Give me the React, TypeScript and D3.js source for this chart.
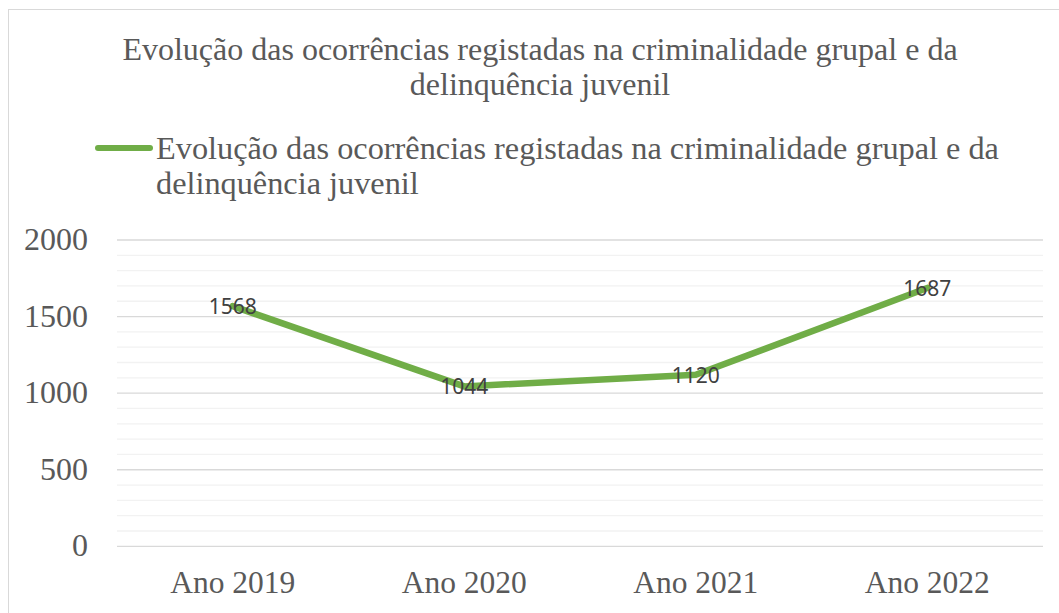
import React from "react";
import * as d3 from "d3";

const categories = ["Ano 2019", "Ano 2020", "Ano 2021", "Ano 2022"];
const values = [1568, 1044, 1120, 1687];
const yTicks = [0, 500, 1000, 1500, 2000];
const titleLines = ["Evolução das ocorrências registadas na criminalidade grupal e da", "delinquência juvenil"];
const legendLines = ["Evolução das ocorrências registadas na criminalidade grupal e da", "delinquência juvenil"];

export default function App() {
  const W = 1059, H = 613;
  const left = 117, right = 1043, top = 240, bottom = 546.3;
  const x = d3.scaleBand<string>().domain(categories).range([left, right]);
  const y = d3.scaleLinear().domain([0, 2000]).range([bottom, top]);
  const minor = d3.range(0, 2001, 100).filter((v) => v % 500 !== 0);
  const line = d3
    .line<number>()
    .x((_, i) => (x(categories[i]) as number) + x.bandwidth() / 2)
    .y((d) => y(d));
  const serif = "'Liberation Serif', 'Times New Roman', serif";
  const textColor = "#595959";
  return (
    <svg width={W} height={H} style={{ position: "absolute", left: 0, top: 0 }}>
      <rect x={0} y={0} width={W} height={H} fill="#fff" />
      <rect x={8.5} y={9.5} width={1100} height={700} fill="#fff" stroke="#d9d9d9" strokeWidth={1} />
      {titleLines.map((t, i) => (
        <text key={i} x={540} y={60 + i * 35} textAnchor="middle" fontFamily={serif} fontSize={32} fill={textColor}>
          {t}
        </text>
      ))}
      <line x1={98} x2={150} y1={148} y2={148} stroke="#70AD47" strokeWidth={6} strokeLinecap="round" />
      {legendLines.map((t, i) => (
        <text key={i} x={156} y={159 + i * 35} fontFamily={serif} fontSize={32.3} fill={textColor}>
          {t}
        </text>
      ))}
      {minor.map((v) => (
        <line key={v} x1={left} x2={right} y1={y(v)} y2={y(v)} stroke="#f2f2f2" strokeWidth={1.3} />
      ))}
      {yTicks.map((v) => (
        <g key={v}>
          <line x1={left} x2={right} y1={y(v)} y2={y(v)} stroke="#d9d9d9" strokeWidth={1.3} />
          <text x={88} y={y(v) + 10} textAnchor="end" fontFamily={serif} fontSize={32} fill={textColor}>
            {v}
          </text>
        </g>
      ))}
      {categories.map((c) => (
        <text key={c} x={(x(c) as number) + x.bandwidth() / 2} y={593} textAnchor="middle" fontFamily={serif} fontSize={31.5} fill={textColor}>
          {c}
        </text>
      ))}
      <path d={line(values) || ""} fill="none" stroke="#70AD47" strokeWidth={6.5} strokeLinejoin="round" strokeLinecap="round" />
      {values.map((v, i) => (
        <text
          key={i}
          x={(x(categories[i]) as number) + x.bandwidth() / 2}
          y={y(v) + 8}
          textAnchor="middle"
          fontFamily="'Noto Sans', 'Open Sans', sans-serif"
          fontSize={21}
          fill="#404040"
        >
          {v}
        </text>
      ))}
    </svg>
  );
}
